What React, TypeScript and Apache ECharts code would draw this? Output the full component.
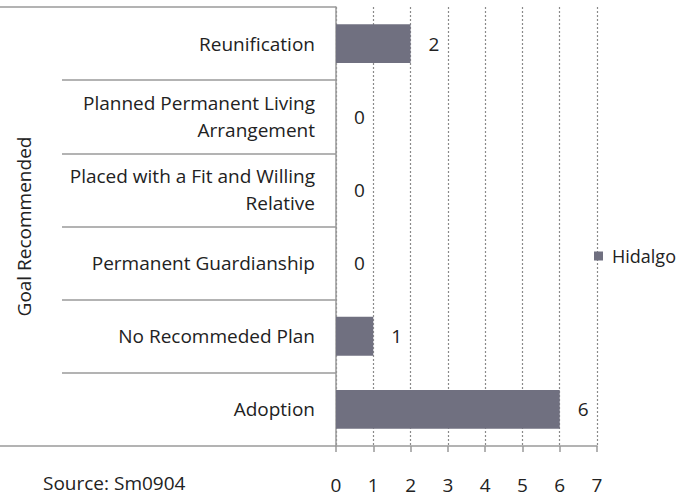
import React, { useEffect, useRef } from "react";
import * as echarts from "echarts";

const categories = [
  "Adoption",
  "No Recommeded Plan",
  "Permanent Guardianship",
  "Placed with a Fit and Willing\nRelative",
  "Planned Permanent Living\nArrangement",
  "Reunification",
];
const hidalgo = [6, 1, 0, 0, 0, 2];
const xTicks = [0, 7, 1];
const seriesName = "Hidalgo";
const axisTitle = "Goal Recommended";
const sourceNote = "Source: Sm0904";

const FONT = "Open Sans";
const FS = 19;

export default function App() {
  const ref = useRef<HTMLDivElement>(null);
  useEffect(() => {
    if (!ref.current) return;
    const chart = echarts.init(ref.current, undefined, { renderer: "svg" });
    chart.setOption({
      animation: false,
      textStyle: { fontFamily: FONT },
      grid: { left: 336, right: 85, top: 7, bottom: 53, containLabel: false },
      legend: {
        left: 589,
        top: 242,
        padding: 5,
        orient: "vertical",
        icon: "rect",
        itemWidth: 9,
        itemHeight: 9,
        textStyle: { fontFamily: FONT, fontSize: 18, color: "#222", padding: [0, 0, 0, 4] },
        data: [seriesName],
      },
      xAxis: {
        type: "value",
        min: xTicks[0],
        max: xTicks[1],
        interval: xTicks[2],
        axisLine: { show: true, lineStyle: { color: "#9a9a9a", width: 1.5 } },
        axisTick: { show: true, length: 6, lineStyle: { color: "#9a9a9a", width: 1.5 } },
        axisLabel: { margin: 29, fontSize: FS, color: "#222", fontFamily: FONT },
        splitLine: { show: true, lineStyle: { type: [2, 2], color: "#8a8a8a", width: 1.2 } },
      },
      yAxis: {
        type: "category",
        data: categories,
        name: axisTitle,
        nameLocation: "middle",
        nameGap: 303,
        nameRotate: 90,
        nameTextStyle: { fontFamily: FONT, fontSize: FS, color: "#222" },
        axisLine: { show: true, lineStyle: { color: "#9a9a9a", width: 1.5 } },
        axisTick: { show: true, interval: 0, length: 274, lineStyle: { color: "#9a9a9a", width: 1.5 } },
        axisLabel: {
          interval: 0,
          margin: 21,
          fontSize: FS,
          lineHeight: 27,
          color: "#222",
          align: "right",
          fontFamily: FONT,
        },
        splitLine: { show: false },
      },
      series: [
        {
          name: seriesName,
          type: "bar",
          data: hidalgo,
          barWidth: "53%",
          itemStyle: { color: "#707080" },
          label: {
            show: true,
            position: "right",
            distance: 18,
            fontSize: FS,
            color: "#222",
            fontFamily: FONT,
          },
        },
      ],
      graphic: [
        { type: "line", shape: { x1: 0, y1: 7, x2: 62, y2: 7 }, style: { stroke: "#9a9a9a", lineWidth: 1.5 } },
        { type: "line", shape: { x1: 0, y1: 446, x2: 62, y2: 446 }, style: { stroke: "#9a9a9a", lineWidth: 1.5 } },
        {
          type: "text",
          left: 43,
          top: 473,
          style: { text: sourceNote, fontFamily: FONT, fontSize: FS, fill: "#222" },
        },
      ],
    });
    return () => chart.dispose();
  }, []);
  return <div ref={ref} style={{ width: 682, height: 499, position: "absolute", left: 0, top: 0 }} />;
}
